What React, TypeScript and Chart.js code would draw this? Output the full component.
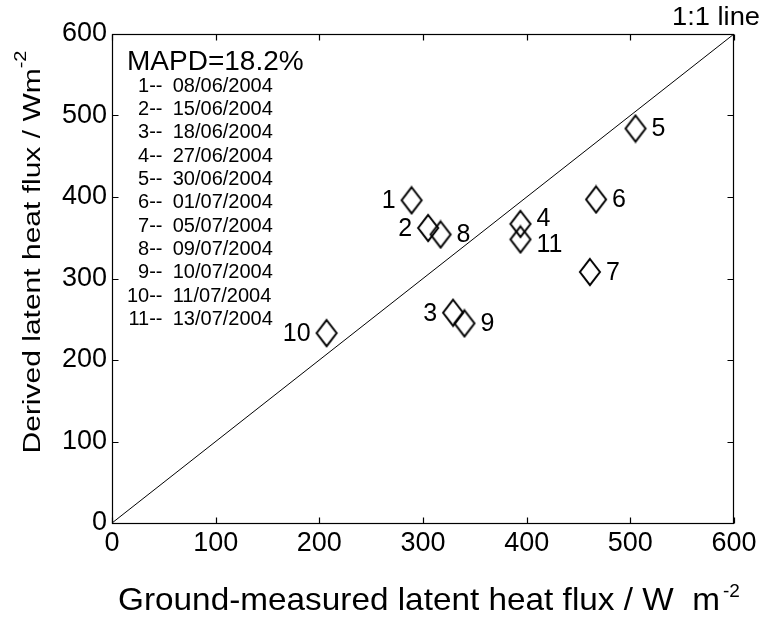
import React, { useEffect, useRef } from "react";
import { Chart, registerables } from "chart.js";

Chart.register(...registerables);

// ---- data ----
const POINT_IDS = ["1", "2", "3", "4", "5", "6", "7", "8", "9", "10", "11"];
const MEASURED = [289, 305, 329, 394, 505, 467, 461, 317, 340, 207, 394];
const DERIVED = [396, 362, 258, 367, 484, 397, 308, 354, 245, 233, 348];
const DATES = [
  "08/06/2004",
  "15/06/2004",
  "18/06/2004",
  "27/06/2004",
  "30/06/2004",
  "01/07/2004",
  "05/07/2004",
  "09/07/2004",
  "10/07/2004",
  "11/07/2004",
  "13/07/2004",
];
const X_TICKS = [0, 100, 200, 300, 400, 500, 600];
const Y_TICKS = [0, 100, 200, 300, 400, 500, 600];
const AXIS_MIN = 0;
const AXIS_MAX = 600;
const ONE_TO_ONE_X = [0, 600];
const ONE_TO_ONE_Y = [0, 600];
const MAPD_TEXT = "MAPD=18.2%";
const LINE_TEXT = "1:1 line";
const X_TITLE = "Ground-measured latent heat flux / W  m";
const Y_TITLE = "Derived latent heat flux / Wm";
const UNIT_SUP = "-2";

// label placement (layout, not data)
const LABEL_SIDE = ["l", "l", "l", "r", "r", "r", "r", "r", "r", "l", "r"];
const LABEL_DY = [0, 0, 0, -6, 0, 0, 0, 0, 0, 0, 5];

const FONT = "'Liberation Sans', Arial, Helvetica, sans-serif";

function makeDiamond(): HTMLCanvasElement {
  const c = document.createElement("canvas");
  c.width = 24;
  c.height = 30;
  const g = c.getContext("2d")!;
  g.strokeStyle = "#000";
  g.lineWidth = 2;
  g.lineJoin = "miter";
  g.beginPath();
  g.moveTo(12, 2);
  g.lineTo(22, 15);
  g.lineTo(12, 28);
  g.lineTo(2, 15);
  g.closePath();
  g.stroke();
  return c;
}

const decorPlugin = {
  id: "decor",
  afterDraw(chart: any) {
    const ctx: CanvasRenderingContext2D = chart.ctx;
    const area = chart.chartArea;
    const xs = chart.scales.x;
    const ys = chart.scales.y;
    ctx.save();
    // box
    ctx.strokeStyle = "#000";
    ctx.lineWidth = 1.2;
    const L = Math.round(area.left) + 0.5;
    const R = Math.round(area.right) - 0.5;
    const T = Math.round(area.top) + 0.5;
    const B = Math.round(area.bottom) + 0.5;
    ctx.strokeRect(L, T, R - L, B - T);
    // inward ticks
    const tl = 6;
    ctx.beginPath();
    X_TICKS.forEach((v) => {
      const px = Math.round(xs.getPixelForValue(v)) + 0.5;
      ctx.moveTo(px, B);
      ctx.lineTo(px, B - tl);
      ctx.moveTo(px, T);
      ctx.lineTo(px, T + tl);
    });
    Y_TICKS.forEach((v) => {
      const py = Math.round(ys.getPixelForValue(v)) + 0.5;
      ctx.moveTo(L, py);
      ctx.lineTo(L + tl, py);
      ctx.moveTo(R, py);
      ctx.lineTo(R - tl, py);
    });
    ctx.stroke();

    ctx.fillStyle = "#000";
    // point labels
    const meta = chart.getDatasetMeta(1);
    ctx.font = `25px ${FONT}`;
    ctx.textBaseline = "middle";
    meta.data.forEach((el: any, i: number) => {
      const side = LABEL_SIDE[i];
      ctx.textAlign = side === "l" ? "right" : "left";
      const x = side === "l" ? el.x - 16 : el.x + 16;
      ctx.fillText(POINT_IDS[i], x, el.y + LABEL_DY[i] + 1);
    });

    // MAPD
    ctx.textBaseline = "alphabetic";
    ctx.textAlign = "left";
    ctx.font = `28px ${FONT}`;
    ctx.fillText(MAPD_TEXT, area.left + 15, 70);

    // date list
    ctx.font = `20px ${FONT}`;
    DATES.forEach((d, i) => {
      const y = 91.7 + i * 23.33;
      ctx.textAlign = "right";
      ctx.fillText(`${POINT_IDS[i]}--`, 162.5, y);
      ctx.textAlign = "left";
      ctx.fillText(d, 172.7, y);
    });

    // 1:1 line label
    ctx.font = `25px ${FONT}`;
    ctx.textAlign = "left";
    const lw = ctx.measureText(LINE_TEXT).width;
    ctx.save();
    ctx.translate(672, 25);
    ctx.scale(88 / lw, 1);
    ctx.fillText(LINE_TEXT, 0, 0);
    ctx.restore();

    // x title
    ctx.font = `32px ${FONT}`;
    const xw = ctx.measureText(X_TITLE).width;
    const sx = 602 / xw;
    ctx.save();
    ctx.translate(118, 610);
    ctx.scale(sx, 1);
    ctx.fillText(X_TITLE, 0, 0);
    ctx.restore();
    ctx.font = `19px ${FONT}`;
    ctx.fillText(UNIT_SUP, 723, 597);

    // y title
    ctx.font = `30px ${FONT}`;
    const yw = ctx.measureText(Y_TITLE).width;
    ctx.font = `20px ${FONT}`;
    const ysw = ctx.measureText(UNIT_SUP).width;
    const total = yw + ysw;
    ctx.save();
    ctx.translate(40, 252);
    ctx.rotate(-Math.PI / 2);
    ctx.scale(1, 0.78);
    ctx.font = `30px ${FONT}`;
    ctx.fillText(Y_TITLE, -total / 2, 0);
    ctx.font = `20px ${FONT}`;
    ctx.fillText(UNIT_SUP, -total / 2 + yw, -18);
    ctx.restore();

    ctx.restore();
  },
};

export default function App() {
  const ref = useRef<HTMLCanvasElement | null>(null);
  useEffect(() => {
    if (!ref.current) return;
    const diamond = makeDiamond();
    const chart = new Chart(ref.current, {
      type: "scatter",
      data: {
        datasets: [
          {
            label: "1:1",
            data: ONE_TO_ONE_X.map((x, i) => ({ x, y: ONE_TO_ONE_Y[i] })),
            showLine: true,
            borderColor: "#000",
            borderWidth: 1,
            pointRadius: 0,
            fill: false,
          },
          {
            label: "points",
            data: MEASURED.map((x, i) => ({ x, y: DERIVED[i] })),
            pointStyle: diamond as any,
            pointRadius: 12,
            borderColor: "#000",
            backgroundColor: "transparent",
          },
        ],
      },
      options: {
        animation: false,
        responsive: false,
        maintainAspectRatio: false,
        events: [],
        layout: { padding: { top: 34, right: 29, left: 0, bottom: 0 } },
        plugins: {
          legend: { display: false },
          tooltip: { enabled: false },
          title: { display: false },
        },
        scales: {
          x: {
            type: "linear",
            min: AXIS_MIN,
            max: AXIS_MAX,
            afterBuildTicks: (s: any) => {
              s.ticks = X_TICKS.map((v) => ({ value: v }));
            },
            afterFit: (s: any) => {
              s.height = 94;
            },
            grid: { display: false, drawTicks: false },
            border: { display: false },
            ticks: {
              color: "#000",
              padding: 4,
              maxRotation: 0,
              font: { family: FONT, size: 27 },
            },
          },
          y: {
            type: "linear",
            min: AXIS_MIN,
            max: AXIS_MAX,
            afterBuildTicks: (s: any) => {
              s.ticks = Y_TICKS.map((v) => ({ value: v }));
            },
            afterFit: (s: any) => {
              s.width = 112;
            },
            grid: { display: false, drawTicks: false },
            border: { display: false },
            ticks: {
              color: "#000",
              padding: 5,
              font: { family: FONT, size: 27 },
            },
          },
        },
      },
      plugins: [decorPlugin],
    });
    return () => chart.destroy();
  }, []);
  return (
    <div style={{ position: "absolute", left: 0, top: 0, width: 763, height: 617, background: "#fff" }}>
      <canvas ref={ref} width={763} height={617} style={{ display: "block", width: 763, height: 617 }} />
    </div>
  );
}
